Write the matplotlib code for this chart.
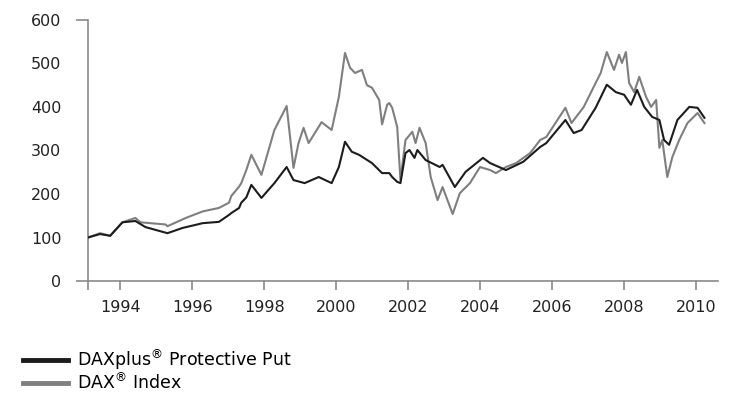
import matplotlib
matplotlib.use('Agg')
import matplotlib.pyplot as plt

# values (decimal year, index level)
dax_years = [1993.10, 1993.44, 1993.72, 1994.06, 1994.42, 1994.56, 1995.26, 1995.31, 1995.82,
             1996.29, 1996.74, 1997.02, 1997.08, 1997.30, 1997.36, 1997.50, 1997.64, 1997.92,
             1998.28, 1998.62, 1998.81, 1998.95, 1999.09, 1999.23, 1999.59, 1999.87, 2000.07,
             2000.24, 2000.38, 2000.52, 2000.71, 2000.85, 2000.99, 2001.19, 2001.27, 2001.41,
             2001.47, 2001.55, 2001.69, 2001.78, 2001.92, 2002.11, 2002.20, 2002.31, 2002.48,
             2002.62, 2002.81, 2002.95, 2003.23, 2003.43, 2003.71, 2003.99, 2004.27, 2004.43,
             2004.71, 2004.99, 2005.38, 2005.66, 2005.83, 2006.36, 2006.53, 2006.87, 2007.20,
             2007.34, 2007.51, 2007.71, 2007.85, 2007.93, 2008.04, 2008.13, 2008.27, 2008.41,
             2008.60, 2008.74, 2008.88, 2008.97, 2009.05, 2009.19, 2009.33, 2009.52, 2009.75,
             2010.03, 2010.22]
dax_values = [100, 110, 104, 135, 145, 135, 130, 126, 145,
              160, 168, 180, 195, 217, 225, 255, 290, 244,
              347, 402, 260, 317, 352, 317, 365, 347, 423,
              524, 490, 478, 485, 450, 444, 416, 360, 405,
              409, 398, 354, 232, 324, 343, 317, 352, 317,
              239, 186, 216, 154, 202, 225, 262, 255, 248,
              262, 271, 294, 324, 331, 398, 363, 400, 455,
              478, 526, 485, 520, 501, 526, 455, 434, 469,
              423, 400, 416, 306, 324, 239, 285, 324, 363,
              386, 363]

put_years = [1993.10, 1993.44, 1993.72, 1994.06, 1994.42, 1994.70, 1995.31, 1995.73, 1996.29,
             1996.74, 1997.02, 1997.08, 1997.30, 1997.36, 1997.50, 1997.64, 1997.92, 1998.28,
             1998.62, 1998.81, 1999.12, 1999.51, 1999.87, 2000.07, 2000.24, 2000.43, 2000.63,
             2000.99, 2001.27, 2001.47, 2001.55, 2001.69, 2001.78, 2001.92, 2002.03, 2002.17,
             2002.25, 2002.48, 2002.87, 2002.95, 2003.29, 2003.59, 2004.07, 2004.27, 2004.71,
             2005.19, 2005.66, 2005.83, 2006.36, 2006.59, 2006.81, 2007.20, 2007.51, 2007.76,
             2007.99, 2008.18, 2008.35, 2008.55, 2008.77, 2008.97, 2009.10, 2009.24, 2009.47,
             2009.80, 2010.03, 2010.22]
put_values = [100, 108, 104, 135, 138, 124, 110, 122, 133,
              136, 152, 156, 168, 180, 192, 221, 191, 225,
              262, 232, 225, 239, 225, 262, 320, 297, 290,
              271, 248, 248, 239, 228, 225, 294, 301, 283,
              301, 278, 262, 267, 216, 251, 283, 271, 255,
              274, 308, 317, 370, 340, 347, 398, 451, 434,
              428, 405, 439, 400, 377, 370, 324, 313, 370,
              400, 398, 375]

year_ticks = [1994, 1996, 1998, 2000, 2002, 2004, 2006, 2008, 2010]
value_ticks = [0, 100, 200, 300, 400, 500, 600]

axis_grey = '#8a8a8a'

fig = plt.figure(figsize=(7.32, 3.97), dpi=100)
ax = fig.add_axes([0.120, 0.292, 0.861, 0.658])

ax.plot(dax_years, dax_values, color='#7f7f7f', lw=1.5, label=r'DAX$^{\circledR}$ Index', zorder=2)
ax.plot(put_years, put_values, color='#1c1c1c', lw=1.5, label=r'DAXplus$^{\circledR}$ Protective Put', zorder=3)

ax.set_xlim(1993.1, 2010.6)
ax.set_ylim(0, 600)

for s in ['top', 'right']:
    ax.spines[s].set_visible(False)
for s in ['left', 'bottom']:
    ax.spines[s].set_color(axis_grey)
    ax.spines[s].set_linewidth(1.2)

# short outward ticks only at 0 and 600
ax.yaxis.remove_overlapping_locs = False
ax.set_yticks(value_ticks)
ax.set_yticks([0, 600], minor=True)
ax.tick_params(axis='y', which='major', length=0, pad=19, labelsize=11.5, labelcolor='#222222')
ax.tick_params(axis='y', which='minor', length=9, width=1.2, color=axis_grey)

ax.set_xticks(year_ticks)
ax.set_xticks([1993.1], minor=True)
ax.tick_params(axis='x', which='both', length=6.5, width=1.2, color=axis_grey, direction='out')
ax.tick_params(axis='x', which='major', pad=7, labelsize=11.5, labelcolor='#222222')

handles, labels = ax.get_legend_handles_labels()
leg = fig.legend(handles[::-1], labels[::-1], loc='upper left', bbox_to_anchor=(0.031, 0.125),
                 frameon=False, fontsize=12.5, handlelength=2.6, handletextpad=0.5,
                 labelspacing=0.0, borderpad=0, borderaxespad=0)
for line in leg.get_lines():
    line.set_linewidth(3.5)

fig.savefig('out.png', dpi=100)
